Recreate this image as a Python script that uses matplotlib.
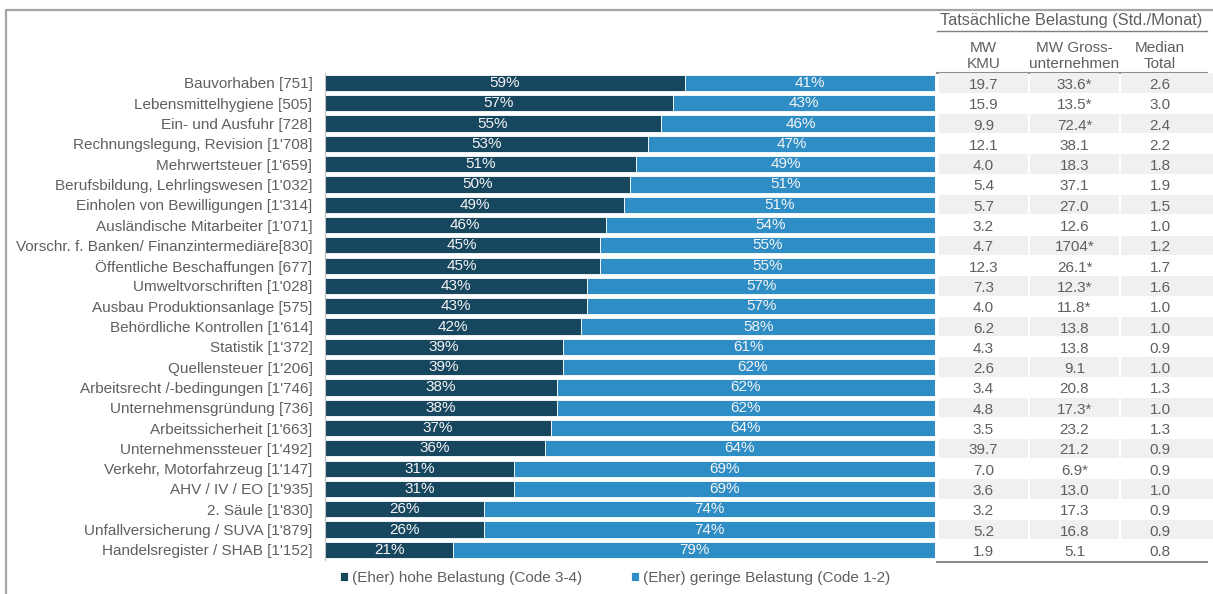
import matplotlib.pyplot as plt
from matplotlib.patches import Rectangle
from matplotlib.lines import Line2D

plt.rcParams['font.family'] = ['Liberation Sans', 'DejaVu Sans']

categories = ["Bauvorhaben [751]", "Lebensmittelhygiene [505]", "Ein- und Ausfuhr [728]",
              "Rechnungslegung, Revision [1'708]", "Mehrwertsteuer [1'659]",
              "Berufsbildung, Lehrlingswesen [1'032]", "Einholen von Bewilligungen [1'314]",
              "Ausländische Mitarbeiter [1'071]", "Vorschr. f. Banken/ Finanzintermediäre[830]",
              "Öffentliche Beschaffungen [677]", "Umweltvorschriften [1'028]",
              "Ausbau Produktionsanlage [575]", "Behördliche Kontrollen [1'614]",
              "Statistik [1'372]", "Quellensteuer [1'206]", "Arbeitsrecht /-bedingungen [1'746]",
              "Unternehmensgründung [736]", "Arbeitssicherheit [1'663]",
              "Unternehmenssteuer [1'492]", "Verkehr, Motorfahrzeug [1'147]",
              "AHV / IV / EO [1'935]", "2. Säule [1'830]", "Unfallversicherung / SUVA [1'879]",
              "Handelsregister / SHAB [1'152]"]
high = [59, 57, 55, 53, 51, 50, 49, 46, 45, 45, 43, 43, 42, 39, 39, 38, 38, 37, 36, 31, 31, 26, 26, 21]
low = [41, 43, 46, 47, 49, 51, 51, 54, 55, 55, 57, 57, 58, 61, 62, 62, 62, 64, 64, 69, 69, 74, 74, 79]

# Std./Monat columns
mw_kmu = ["19.7", "15.9", "9.9", "12.1", "4.0", "5.4", "5.7", "3.2", "4.7", "12.3", "7.3", "4.0",
          "6.2", "4.3", "2.6", "3.4", "4.8", "3.5", "39.7", "7.0", "3.6", "3.2", "5.2", "1.9"]
mw_gross = ["33.6*", "13.5*", "72.4*", "38.1", "18.3", "37.1", "27.0", "12.6", "1704*", "26.1*",
            "12.3*", "11.8*", "13.8", "13.8", "9.1", "20.8", "17.3*", "23.2", "21.2", "6.9*",
            "13.0", "17.3", "16.8", "5.1"]
median_total = ["2.6", "3.0", "2.4", "2.2", "1.8", "1.9", "1.5", "1.0", "1.2", "1.7", "1.6", "1.0",
                "1.0", "0.9", "1.0", "1.3", "1.0", "1.3", "0.9", "0.9", "1.0", "0.9", "0.9", "0.8"]
table_cols = [mw_kmu, mw_gross, median_total]
col_heads = ["MW\nKMU", "MW Gross-\nunternehmen", "Median\nTotal"]

dark = '#17465f'
light = '#2e8dc4'
grey = '#5f5f5f'
fs = 11

W, H = 1213, 594
def box(l, t, r, b):
    return [l / W, 1 - b / H, (r - l) / W, (b - t) / H]

fig = plt.figure(figsize=(W / 100, H / 100), dpi=100)

# overlay in pixel units for frame and header
bg = fig.add_axes([0, 0, 1, 1], zorder=0)
bg.set_xlim(0, W)
bg.set_ylim(H, 0)
bg.axis('off')
bg.add_line(Line2D([6, 6, W + 5], [H + 5, 10, 10], color='#a6a6a6', lw=1.6))

n = len(categories)
ylims = (n - 0.5, -0.5)
ax = fig.add_axes(box(325, 72.8, 935, 560), zorder=2)
ax.patch.set_alpha(0)
y = list(range(n))
b1 = ax.barh(y, high, height=0.8, color=dark, edgecolor='white', linewidth=0.6,
             label='(Eher) hohe Belastung (Code 3-4)')
b2 = ax.barh(y, low, left=high, height=0.8, color=light, edgecolor='white', linewidth=0.6,
             label='(Eher) geringe Belastung (Code 1-2)')
for i in range(n):
    ax.text(high[i] / 2, i, f"{high[i]}%", ha='center', va='center', color='#f4f4f4', fontsize=fs)
    ax.text(high[i] + low[i] / 2, i, f"{low[i]}%", ha='center', va='center', color='#f4f4f4', fontsize=fs)
ax.set_xlim(0, 100)
ax.set_ylim(*ylims)
ax.set_yticks(y)
ax.set_yticklabels(categories, fontsize=fs, color=grey)
ax.tick_params(axis='y', length=0, pad=9)
ax.set_xticks([])
for s in ['top', 'right', 'bottom']:
    ax.spines[s].set_visible(False)
ax.spines['left'].set_color('#bfbfbf')

# table to the right, sharing the row positions
tab = fig.add_axes(box(937, 72.8, 1213, 560), zorder=1)
tab.set_xlim(0, 276)
tab.set_ylim(*ylims)
tab.axis('off')
cells = [(2, 91), (93, 182), (184, 276)]
for i in range(n):
    for c, (l, r) in enumerate(cells):
        if i % 2 == 0:
            tab.add_patch(Rectangle((l, i - 0.48), r - l, 0.96, color='#f0f0f0', lw=0))
        tab.text((l + r) / 2 - (0 if c < 2 else 7), i + 0.1, table_cols[c][i],
                 ha='center', va='center', color=grey, fontsize=fs)

bg.text(1071, 21, "Tatsächliche Belastung (Std./Monat)", ha='center', va='center',
        color=grey, fontsize=11.8)
bg.add_line(Line2D([937, 1207], [31, 31], color='#7f7f7f', lw=1))
for (l, r), head, dx in zip(cells, col_heads, [0, 0, -7]):
    bg.text(937 + (l + r) / 2 + dx, 56, head, ha='center', va='center', color=grey,
            fontsize=fs, linespacing=1.2)
bg.add_line(Line2D([937, 1207], [73, 73], color='#8c8c8c', lw=1.5))
bg.add_line(Line2D([937, 1207], [562, 562], color='#8c8c8c', lw=1.5))

fig.legend(handles=[b1, b2], loc='center left', bbox_to_anchor=(340 / W, 1 - 578 / H),
           ncol=2, frameon=False, fontsize=fs, labelcolor=grey, handlelength=0.5,
           handleheight=0.5, handletextpad=0.3, columnspacing=3.2, borderpad=0,
           borderaxespad=0)

fig.savefig('out.png', dpi=100)
